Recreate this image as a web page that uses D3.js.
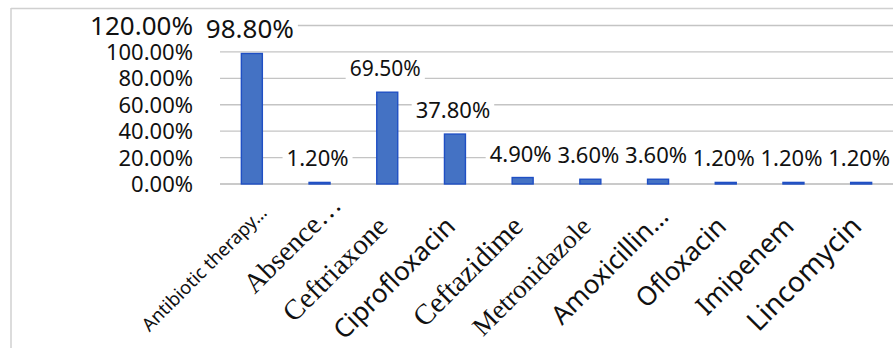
<!DOCTYPE html>
<html>
<head>
<meta charset="utf-8">
<script src="https://cdn.jsdelivr.net/npm/d3@7"></script>
<style>
  html, body { margin: 0; padding: 0; background: #fff; }
  svg { display: block; }
</style>
</head>
<body>
<svg id="chart" width="893" height="348"></svg>
<script>
// Categories and their shares
const categories = [
  "Antibiotic therapy\u2026", "Absence\u2026", "Ceftriaxone", "Ciprofloxacin",
  "Ceftazidime", "Metronidazole", "Amoxicillin\u2026", "Ofloxacin",
  "Imipenem", "Lincomycin"
];
const shares = [98.8, 1.2, 69.5, 37.8, 4.9, 3.6, 3.6, 1.2, 1.2, 1.2];
const yTicks = [0, 20, 40, 60, 80, 100, 120];

// Typography for each category label (family, size, shift along the baseline)
const catStyle = [
  { family: "'Noto Sans', sans-serif", size: 18.5, shift: 20 },
  { family: "'Liberation Serif', serif", size: 28, shift: 30 },
  { family: "'Liberation Serif', serif", size: 28.5, shift: 0 },
  { family: "'Noto Sans', sans-serif", size: 26, shift: 0 },
  { family: "'Liberation Serif', serif", size: 29, shift: 0 },
  { family: "'Liberation Serif', serif", size: 26.5, shift: 0 },
  { family: "'Noto Sans', sans-serif", size: 26, shift: 14 },
  { family: "'Noto Sans', sans-serif", size: 26, shift: 0 },
  { family: "'Noto Sans', sans-serif", size: 26, shift: 0 },
  { family: "'Noto Sans', sans-serif", size: 28, shift: 0 }
];
// Font size of each value label
const valueSize = [26, 22, 21, 22, 22, 22, 22, 22, 22, 22];

const svg = d3.select("#chart");
const fmt = v => v.toFixed(2) + "%";

// Frame edges
svg.append("line").attr("x1", 11).attr("x2", 893).attr("y1", 8.5).attr("y2", 8.5)
  .attr("stroke", "#d0d0d0").attr("stroke-width", 1.5);
svg.append("line").attr("x1", 11).attr("x2", 11).attr("y1", 8).attr("y2", 348)
  .attr("stroke", "#d0d0d0").attr("stroke-width", 1.5);

const x = d3.scaleBand().domain(categories).range([218, 895])
  .paddingInner(0.69).paddingOuter(0.345);
const y = d3.scaleLinear().domain([0, 120]).range([184, 25.5]);

// Gridlines
svg.append("g").selectAll("line").data(yTicks).join("line")
  .attr("x1", 220).attr("x2", 893)
  .attr("y1", d => y(d)).attr("y2", d => y(d))
  .attr("stroke", d => d === 0 ? "#b8b8b8" : "#c4c4c4")
  .attr("stroke-width", 1.3);

// Y axis labels
const yAxis = d3.axisLeft(y).tickValues(yTicks).tickFormat(fmt).tickSize(0).tickPadding(0);
const yg = svg.append("g").attr("transform", "translate(193,0)").call(yAxis);
yg.select(".domain").remove();
yg.selectAll("text")
  .attr("fill", "#111")
  .style("font-family", "'Noto Sans', sans-serif")
  .style("font-size", d => d === 120 ? "26px" : "22px")
  .attr("dy", d => d === 120 ? "0.36em" : "0.34em");

// Bars
svg.append("g").selectAll("rect").data(shares).join("rect")
  .attr("x", (d, i) => x(categories[i]))
  .attr("width", x.bandwidth())
  .attr("y", d => y(d))
  .attr("height", d => y(0) - y(d))
  .attr("fill", "#4472C4")
  .attr("stroke", "#1f4fc4")
  .attr("stroke-width", 1.4);

// Value labels on white plates
const lbl = svg.append("g").selectAll("g").data(shares).join("g")
  .attr("transform", (d, i) =>
    `translate(${x(categories[i]) + x.bandwidth() / 2 - 2},${y(d) - 16})`);
lbl.append("text")
  .attr("text-anchor", "middle")
  .attr("fill", "#111")
  .style("font-family", "'Noto Sans', sans-serif")
  .style("font-size", (d, i) => valueSize[i] + "px")
  .text(d => d.toFixed(2) + "%");
lbl.each(function () {
  const g = d3.select(this);
  const b = g.select("text").node().getBBox();
  g.insert("rect", "text")
    .attr("x", b.x - 4).attr("y", b.y + 3)
    .attr("width", b.width + 8).attr("height", b.height - 3)
    .attr("fill", "#fff");
});

// Category labels, rotated
svg.append("g").selectAll("text").data(categories).join("text")
  .attr("text-anchor", "end")
  .attr("fill", "#111")
  .style("font-family", (d, i) => catStyle[i].family)
  .style("font-size", (d, i) => catStyle[i].size + "px")
  .attr("transform", (d, i) => {
    const s = catStyle[i].shift * Math.SQRT1_2;
    return `translate(${x(d) + x.bandwidth() / 2 + 2 + s},${228 - s}) rotate(-45)`;
  })
  .text(d => d);
</script>
</body>
</html>
